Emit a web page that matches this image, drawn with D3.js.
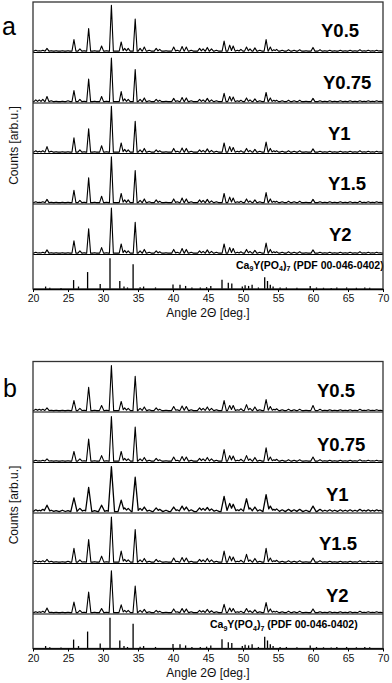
<!DOCTYPE html>
<html><head><meta charset="utf-8">
<script src="https://cdn.jsdelivr.net/npm/d3@7"></script>
<style>
html,body{margin:0;padding:0;background:#fff;}
svg{display:block;font-family:"Liberation Sans",Arial,sans-serif;}
</style></head>
<body>
<svg id="chart" width="392" height="683"></svg>
<script>
// ---------------- data ----------------
const xTicks = [20, 25, 30, 35, 40, 45, 50, 55, 60, 65, 70];
const sampleNames = ["Y0.5", "Y0.75", "Y1", "Y1.5", "Y2"];
const panelNames = ["a", "b"];

// peak positions (2θ, deg) of measured patterns
const peakAngles = [20.4, 20.9, 21.4, 22.0, 22.6, 23.3, 24.2, 25.0, 25.85, 26.7,
  27.3, 27.95, 28.8, 29.8, 30.5, 31.2, 32.6, 33.1, 33.6, 34.6,
  35.3, 35.9, 36.6, 37.6, 38.1, 39.0, 40.1, 40.6, 41.3, 41.9,
  42.6, 43.8, 44.3, 44.9, 45.5, 46.2, 47.3, 48.1, 48.6, 49.2,
  49.7, 50.5, 51.0, 51.7, 52.4, 53.3, 53.9, 54.4, 54.8, 55.6,
  56.5, 57.3, 58.1, 59.0, 60.0, 61.0, 61.7, 62.4, 63.1, 63.9,
  64.6, 65.3, 66.0, 66.7, 67.3, 67.9, 68.5, 69.1, 69.6];

// panel a intensities
const aY05 = [2,1,2,6,1,1,1,1,25,5, 1,49,1,11,1,100,20,6,6,70, 6,9,2,6,4,1,9,2,10,9, 2,6,5,8,5,2,22,13,11,2, 4,9,5,7,2,25,9,3,4,2, 3,2,3,1,8,3,1,2,1,2, 1,2,1,3,1,2,1,2,1];
const aY075 = [4,4,5,11,2,1,1,2,24,5, 1,49,1,11,1,95,22,6,5,70, 5,8,2,5,3,1,7,2,9,8, 2,5,4,7,4,2,18,11,10,2, 3,8,4,6,2,20,8,3,3,2, 3,2,3,1,7,2,1,2,1,2, 1,2,1,2,1,2,1,2,1];
const aY1 = [3,2,3,12,2,1,1,1,31,5, 1,51,1,14,1,100,20,6,5,67, 5,8,2,5,3,1,8,2,9,8, 2,5,4,7,4,2,20,12,10,2, 3,8,4,6,2,22,8,3,3,2, 3,2,3,1,7,2,1,2,1,2, 1,2,1,3,1,2,1,2,1];
const aY15 = [2,1,2,7,1,1,1,1,27,5, 1,54,1,14,1,100,20,6,6,70, 5,8,2,6,3,1,8,2,10,8, 2,6,5,7,4,2,20,12,10,2, 3,8,4,6,2,22,8,3,3,2, 3,2,3,1,7,2,1,2,1,2, 1,2,1,3,1,2,1,2,1];
const aY2 = [2,1,2,7,1,1,1,1,27,5, 1,53,1,12,1,98,20,6,5,67, 5,8,2,5,3,1,8,2,10,8, 2,5,4,7,4,2,20,12,10,2, 3,8,4,6,2,22,8,3,3,2, 3,2,3,1,7,2,1,2,1,2, 1,2,1,3,1,2,1,2,1];

// panel b intensities
const bY05 = [3,3,3,6,1,1,1,1,22,5, 1,51,1,11,1,98,20,6,5,75, 5,8,2,6,3,1,9,2,10,9, 2,6,5,8,5,2,22,11,11,2, 4,13,5,8,2,24,9,3,4,2, 3,2,3,1,11,3,1,2,1,2, 1,2,1,3,1,2,1,2,1];
const bY075 = [2,1,2,5,1,1,1,1,21,5, 1,48,1,12,1,97,21,6,5,74, 5,8,2,6,3,1,9,2,10,9, 2,6,5,8,5,2,25,12,11,2, 4,12,5,8,2,29,9,3,4,2, 3,2,3,1,9,3,1,2,1,2, 1,2,1,3,1,2,1,2,1];
const bY1 = [4,3,5,14,3,2,3,2,30,7, 3,53,2,14,2,98,25,8,7,75, 7,10,3,8,5,3,10,4,12,10, 4,8,7,9,6,3,33,18,16,4, 6,28,8,10,4,37,12,5,6,4, 5,4,5,3,12,5,3,4,3,4, 3,4,3,5,3,4,3,4,3];
const bY15 = [3,2,3,6,2,1,1,2,30,5, 1,49,1,13,1,98,24,6,5,71, 5,8,2,6,3,1,9,2,10,9, 2,6,5,8,5,2,24,13,11,2, 4,17,5,8,2,30,9,3,4,2, 3,2,3,1,9,3,1,2,1,2, 1,2,1,3,1,2,1,2,1];
const bY2 = [2,2,3,10,1,1,1,1,23,5, 1,45,1,9,1,91,17,5,5,58, 5,7,2,5,3,1,8,2,9,8, 2,5,4,7,4,2,18,10,9,2, 3,9,4,6,2,22,8,3,3,2, 3,2,3,1,8,2,1,2,1,2, 1,2,1,3,1,2,1,2,1];

// reference pattern Ca9Y(PO4)7 (PDF 00-046-0402)
const refAngles = [21.8, 22.4, 24.0, 25.8, 26.5, 27.8, 29.6, 31.0, 32.4, 33.0,
  33.5, 34.3, 35.3, 35.8, 37.5, 40.0, 41.0, 41.8, 42.7, 43.9,
  44.8, 45.4, 47.0, 47.9, 48.4, 49.9, 50.3, 50.8, 51.3, 52.2,
  53.1, 53.5, 53.9, 54.3, 55.3, 56.2, 57.7, 59.6, 60.5, 61.5,
  62.6, 63.4, 64.8, 66.2, 67.4, 68.1];
const refIntensity = [8,4,3,29,8,55,16,100,26,8, 5,80,6,8,5,15,14,10,5,5, 6,10,30,20,18,8,12,10,14,5, 38,26,14,8,5,5,4,10,5,4, 3,5,5,4,5,4];

const panelSeries = [[aY05, aY075, aY1, aY15, aY2], [bY05, bY075, bY1, bY15, bY2]];

// ---------------- layout ----------------
const svg = d3.select("#chart");
const x = d3.scaleLinear().domain([20, 70]).range([33, 383]);
const rowH = 50.5, refH = 34.5;
const panels = [
  {top: 2, letterY: 35, letterX: 2, labelX: [321, 323, 328, 328, 329], labelDy: [35, 36, 36.5, 36, 36.5], refLabelX: 236, refHW: [0.28,0.28,0.28,0.28,0.28]},
  {top: 361.5, letterY: 397, letterX: 3, labelX: [317, 317, 326, 319, 326], labelDy: [35, 38.5, 38.5, 36.5, 38.5], refLabelX: 210, refHW: [0.32,0.32,0.45,0.32,0.32]}
];

function profile(angles, ints, hw) {
  const pts = [[20, 0]];
  let prev = null;
  angles.forEach((a, i) => {
    const I = ints[i];
    if (!(I > 0)) return;
    if (prev) {
      if (prev.a + hw > a - hw) {
        const vx = (prev.I * (hw + prev.a) - I * (hw - a)) / (I + prev.I);
        const vy = Math.max(0, I * (1 - (a - vx) / hw));
        pts.push([vx, vy]);
      } else {
        pts.push([prev.a + hw, 0]);
        pts.push([a - hw, 0]);
      }
    } else {
      pts.push([Math.max(20, a - hw), 0]);
    }
    pts.push([a, I]);
    prev = {a, I};
  });
  if (prev) pts.push([Math.min(70, prev.a + hw), 0]);
  pts.push([70, 0]);
  return pts;
}

panels.forEach((p, pi) => {
  const g = svg.append("g");
  const rowsBottom = p.top + 5 * rowH;
  const axisY = rowsBottom + refH;

  panelSeries[pi].forEach((vals, ri) => {
    const y0 = p.top + ri * rowH;
    const y = d3.scaleLinear().domain([-3, 107]).range([y0 + rowH, y0]);
    const line = d3.line().x(d => x(d[0])).y(d => y(d[1]));
    g.append("path")
      .attr("d", line(profile(peakAngles, vals, p.refHW[ri])))
      .attr("fill", "none").attr("stroke", "#000")
      .attr("stroke-width", pi === 1 && ri === 2 ? 1.3 : 1.1)
      .attr("stroke-linejoin", "round");
    g.append("text")
      .attr("x", p.labelX[ri]).attr("y", y0 + p.labelDy[ri])
      .attr("font-size", 18.5).attr("font-weight", "bold").attr("fill", "#000")
      .text(sampleNames[ri]);
    g.append("line")
      .attr("x1", x(20)).attr("x2", x(70))
      .attr("y1", y0 + rowH).attr("y2", y0 + rowH)
      .attr("stroke", "#000").attr("stroke-width", 1.1);
  });

  // reference sticks
  const yr = d3.scaleLinear().domain([0, 112]).range([axisY, rowsBottom]);
  g.selectAll(null).data(refAngles).enter().append("line")
    .attr("x1", d => x(d)).attr("x2", d => x(d))
    .attr("y1", yr(0)).attr("y2", (d, i) => yr(refIntensity[i]))
    .attr("stroke", "#000").attr("stroke-width", 1.3);

  const rl = g.append("text")
    .attr("x", p.refLabelX).attr("y", rowsBottom + 14.2)
    .attr("font-size", 10.5).attr("font-weight", "bold").attr("fill", "#000");
  rl.append("tspan").text("Ca");
  rl.append("tspan").attr("font-size", 7).attr("dy", 2.5).text("9");
  rl.append("tspan").attr("dy", -2.5).text("Y(PO");
  rl.append("tspan").attr("font-size", 7).attr("dy", 2.5).text("4");
  rl.append("tspan").attr("dy", -2.5).text(")");
  rl.append("tspan").attr("font-size", 7).attr("dy", 2.5).text("7");
  rl.append("tspan").attr("dy", -2.5).text(" (PDF 00-046-0402)");

  // frame
  g.append("rect")
    .attr("x", x(20)).attr("y", p.top)
    .attr("width", x(70) - x(20)).attr("height", axisY - p.top)
    .attr("fill", "none").attr("stroke", "#333").attr("stroke-width", 1.3);

  // x axis
  const ax = g.append("g").attr("transform", `translate(0,${axisY})`)
    .call(d3.axisBottom(x).tickValues(xTicks).tickSize(3).tickSizeOuter(0).tickPadding(3));
  ax.select(".domain").attr("stroke", "#000").attr("stroke-width", 1.3);
  ax.selectAll(".tick line").attr("stroke", "#000").attr("stroke-width", 1);
  ax.selectAll(".tick text").attr("font-size", 10.5).attr("fill", "#111")
    .attr("font-family", "'Liberation Sans', Arial, sans-serif");

  g.append("text")
    .attr("x", x(45)).attr("y", axisY + 28)
    .attr("text-anchor", "middle").attr("font-size", 12).attr("fill", "#111")
    .text("Angle 2\u0398 [deg.]");

  g.append("text")
    .attr("transform", `translate(18,${(p.top + axisY) / 2}) rotate(-90)`)
    .attr("text-anchor", "middle").attr("font-size", 12).attr("fill", "#111")
    .text("Counts [arb.u.]");

  g.append("text")
    .attr("x", p.letterX).attr("y", p.letterY)
    .attr("font-size", 25).attr("fill", "#000")
    .text(panelNames[pi]);
});
</script>
</body></html>
